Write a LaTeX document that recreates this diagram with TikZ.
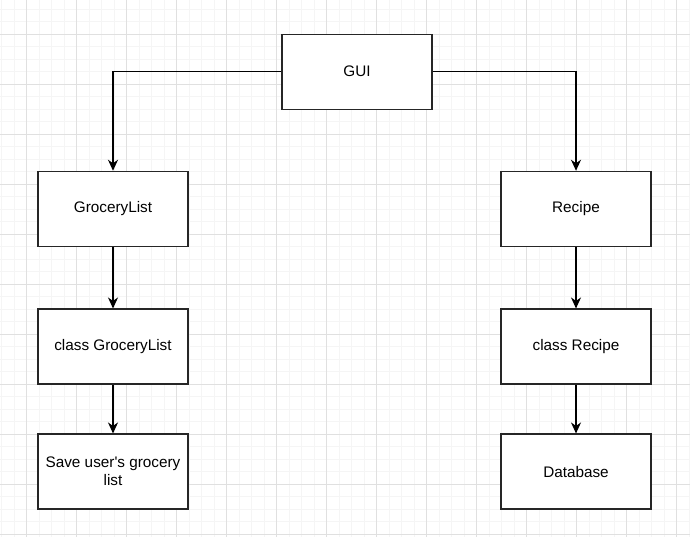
\documentclass[tikz,border=0pt]{standalone}
\usepackage{fontspec}
\newfontfamily\boxfont{Liberation Sans}
\usepackage{tikz}
\usetikzlibrary{arrows.meta,positioning}
\tikzset{class node/.style={rectangle, draw=black!85, fill=white, line width=1.3pt,
    minimum width=150pt, minimum height=75pt, inner sep=1pt,
    align=center, font=\boxfont\fontsize{15.3}{18}\selectfont}}
\tikzset{regular edge/.style={draw=black, line width=1.2pt,
    -{Stealth[length=11pt,width=10pt,inset=3.5pt]}}}
\tikzset{minor grid/.style={draw=black!4, line width=1pt}}
\tikzset{major grid/.style={draw=black!12, line width=1pt}}

\begin{document}
\begin{tikzpicture}
      [x=1pt, y=-1pt]
      \useasboundingbox [fill=white] (0, 0) rectangle (690, 537);

      % background grid
      \foreach \i in {0,...,55} \draw [minor grid] (1.7+12.5*\i, 0) -- (1.7+12.5*\i, 537);
      \foreach \j in {0,...,43} \draw [minor grid] (0, -3.2+12.5*\j) -- (690, -3.2+12.5*\j);
      \foreach \i in {0,...,13} \draw [major grid] (26.7+50*\i, 0) -- (26.7+50*\i, 537);
      \foreach \j in {0,...,10} \draw [major grid] (0, 34.3+50*\j) -- (690, 34.3+50*\j);

      \node [class node] (gui)          at (357, 71.7)  {GUI};
      \node [class node] (grocery)      at (113, 208.9) {GroceryList};
      \node [class node] (recipe)       at (576, 208.9) {Recipe};
      \node [class node] (groceryclass) at (113, 346.6) {class GroceryList};
      \node [class node] (recipeclass)  at (576, 346.6) {class Recipe};
      \node [class node] (save)         at (113, 471.6) {Save user's grocery\\list};
      \node [class node] (database)     at (576, 471.6) {Database};

      \draw [regular edge] (gui.west) -| (grocery.north);
      \draw [regular edge] (gui.east) -| (recipe.north);
      \draw [regular edge] (grocery)      to (groceryclass);
      \draw [regular edge] (groceryclass) to (save);
      \draw [regular edge] (recipe)       to (recipeclass);
      \draw [regular edge] (recipeclass)  to (database);
    \end{tikzpicture}
\end{document}
